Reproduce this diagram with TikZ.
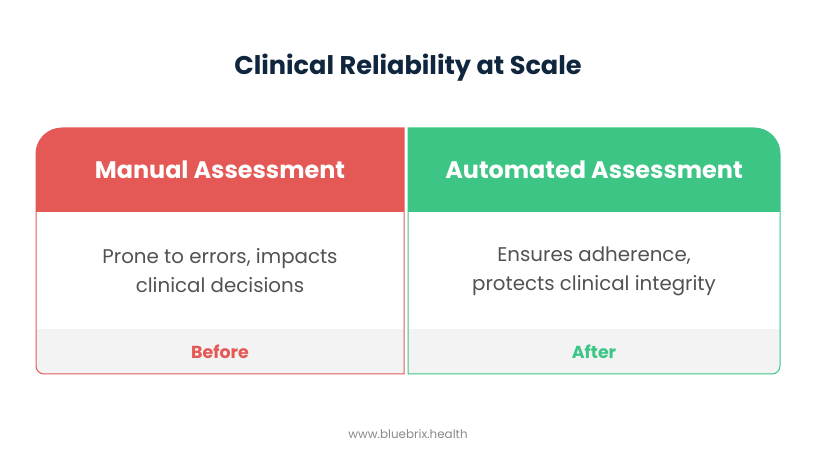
\documentclass[tikz,border=0pt]{standalone}
\usepackage{fontspec}
\setmainfont{Poppins}
\definecolor{navy}{HTML}{10263F}
\definecolor{manred}{HTML}{E45956}
\definecolor{autogreen}{HTML}{3DC585}
\definecolor{footgray}{HTML}{F3F3F3}
\definecolor{bodygray}{HTML}{525252}
\definecolor{webgray}{HTML}{8A8A8A}
\begin{document}
\begin{tikzpicture}[x=1pt,y=1pt,inner sep=0pt,outer sep=0pt,
cardhead/.style={text=white,font=\fontsize{23.9}{28}\selectfont\bfseries},
cardbody/.style={text=bodygray,align=center,font=\fontsize{19.8}{29}\selectfont},
cardfoot/.style={font=\fontsize{17.4}{20}\selectfont\bfseries}]
\useasboundingbox (0,0) rectangle (816,463);
\fill[white] (0,0) rectangle (816,463);
% title
\node[text=navy,font=\fontsize{25.6}{30}\selectfont\bfseries] (title) at (408,395) {Clinical Reliability at Scale};
% left card
\begin{scope}
\clip (404,89) -- (404,335) -- (62,335) arc[start angle=90,end angle=180,radius=26] -- (36,97) arc[start angle=180,end angle=270,radius=8] -- cycle;
\fill[manred] (36,251) rectangle (404,335);
\fill[footgray] (36,89) rectangle (404,134);
\end{scope}
\draw[manred,line width=1pt] (404,89) -- (404,335) -- (62,335) arc[start angle=90,end angle=180,radius=26] -- (36,97) arc[start angle=180,end angle=270,radius=8] -- cycle;
\node[cardhead] (manhead) at (220,293) {Manual Assessment};
\node[cardbody] (manbody) at (220,192) {Prone to errors, impacts\\clinical decisions};
\node[cardfoot,text=manred] (manfoot) at (220,111.5) {Before};
% right card
\begin{scope}
\clip (408,89) -- (408,335) -- (754,335) arc[start angle=90,end angle=0,radius=26] -- (780,97) arc[start angle=0,end angle=-90,radius=8] -- cycle;
\fill[autogreen] (408,251) rectangle (780,335);
\fill[footgray] (408,89) rectangle (780,134);
\end{scope}
\draw[autogreen,line width=1pt] (408,89) -- (408,335) -- (754,335) arc[start angle=90,end angle=0,radius=26] -- (780,97) arc[start angle=0,end angle=-90,radius=8] -- cycle;
\node[cardhead] (autohead) at (594,293) {Automated Assessment};
\node[cardbody] (autobody) at (594,192) {Ensures adherence,\\protects clinical integrity};
\node[cardfoot,text=autogreen] (autofoot) at (594,111.5) {After};
% website
\node[text=webgray,font=\fontsize{11.9}{14}\selectfont] (web) at (408,29) {www.bluebrix.health};
\end{tikzpicture}
\end{document}
